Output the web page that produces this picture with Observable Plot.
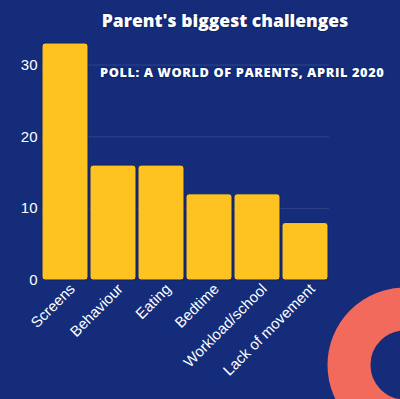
<!DOCTYPE html>
<html>
<head>
<meta charset="utf-8">
<script src="https://cdn.jsdelivr.net/npm/d3@7"></script>
<script src="https://cdn.jsdelivr.net/npm/@observablehq/plot@0.6"></script>
<style>
  html, body { margin: 0; padding: 0; background: #142c7a; }
  #wrap { position: relative; width: 400px; height: 399px; overflow: hidden; background: #142c7a; }
  #ring { position: absolute; left: 0; top: 0; }
  #title { position: absolute; left: 0; top: 8px; width: 450px; text-align: center;
    font-family: "Open Sans", sans-serif; font-weight: 800; font-size: 17.5px; color: #fff;
    text-shadow: 0 0 2px #0d1f5e, 0 0 1px #0d1f5e; }
  #subtitle { position: absolute; left: 100px; top: 63px; font-family: "Open Sans", sans-serif; font-weight: 800;
    font-size: 12.8px; letter-spacing: 0.6px; color: #fff; text-shadow: 0 0 2px #0d1f5e, 0 0 1px #0d1f5e; white-space: nowrap; }
  #chart { position: absolute; left: 0; top: 0; }
</style>
</head>
<body>
<div id="wrap">
  <svg id="ring" width="400" height="399">
    <circle cx="405" cy="365" r="56" fill="none" stroke="#f26a5b" stroke-width="43"></circle>
  </svg>
  <div id="chart"></div>
  <div id="title">Parent's biggest challenges</div>
  <div id="subtitle">POLL: A WORLD OF PARENTS, APRIL 2020</div>
</div>
<script>
const categories = ["Screens", "Behaviour", "Eating", "Bedtime", "Workload/school", "Lack of movement"];
const values = [33, 16, 16, 12, 12, 8];
const yTicks = [0, 10, 20, 30];

const data = categories.map((c, i) => ({category: c, value: values[i]}));

const chart = Plot.plot({
  width: 400,
  height: 399,
  marginLeft: 41,
  marginRight: 71,
  marginTop: 43,
  marginBottom: 119,
  style: {background: "transparent", color: "#ffffff", fontFamily: "Liberation Sans, Arial, sans-serif", fontSize: "15px"},
  x: {domain: categories, label: null, paddingInner: 0.04, paddingOuter: 0},
  y: {domain: [0, 33], label: null},
  marks: [
    Plot.ruleY(yTicks.filter(d => d > 0), {stroke: "#ffffff", strokeOpacity: 0.12, strokeWidth: 1}),
    Plot.barY(data, {x: "category", y: "value", fill: "#fec221", stroke: "#0f2466", strokeWidth: 1, rx: 3}),
    Plot.axisY({ticks: yTicks, tickSize: 0, tickPadding: 4, label: null, fontSize: 15}),
    Plot.axisX({tickSize: 0, tickRotate: -45, tickPadding: 4, label: null, fontSize: 15, dx: 7, dy: 2})
  ]
});
document.getElementById("chart").appendChild(chart);
</script>
</body>
</html>
